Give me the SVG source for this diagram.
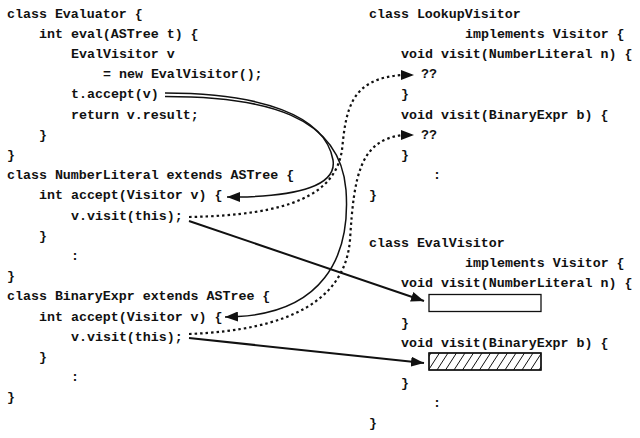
<svg xmlns="http://www.w3.org/2000/svg" width="640" height="438" viewBox="0 0 640 438">
<style>
text{font-family:"Liberation Mono","DejaVu Sans Mono",monospace;font-size:13.3px;font-weight:bold;fill:#111}
.ln{fill:none;stroke:#111;stroke-width:2}
.dbl{fill:none;stroke:#111;stroke-width:1.5}
.dot{fill:none;stroke:#111;stroke-width:2.2;stroke-dasharray:2.5 3}
.box{fill:#fff;stroke:#111;stroke-width:1.3}
.hatch{stroke:#111;stroke-width:1}
</style>
<defs>
<marker id="ah" markerUnits="userSpaceOnUse" markerWidth="14" markerHeight="10" refX="13" refY="5" orient="auto">
<path d="M0,0 L13,5 L0,10 z" fill="#111"/>
</marker>
<clipPath id="hc"><rect x="429" y="353" width="112" height="17"/></clipPath>
</defs>
<rect width="640" height="438" fill="#fff"/>

<g id="evaluator">
<text x="7" y="17.5">class Evaluator {</text>
<text x="39" y="37.7">int eval(ASTree t) {</text>
<text x="71" y="57.9">EvalVisitor v</text>
<text x="103" y="78.1">= new EvalVisitor();</text>
<text x="71" y="98.3">t.accept(v)</text>
<text x="71" y="118.5">return v.result;</text>
<text x="39" y="138.7">}</text>
<text x="7" y="158.9">}</text>
</g>

<g id="numberliteral">
<text x="7" y="179.1">class NumberLiteral extends ASTree {</text>
<text x="39" y="199.3">int accept(Visitor v) {</text>
<text x="71" y="219.5">v.visit(this);</text>
<text x="39" y="239.7">}</text>
<text x="71" y="259.9">:</text>
<text x="7" y="280.1">}</text>
</g>

<g id="binaryexpr">
<text x="7" y="300.3">class BinaryExpr extends ASTree {</text>
<text x="39" y="320.5">int accept(Visitor v) {</text>
<text x="71" y="340.7">v.visit(this);</text>
<text x="39" y="360.9">}</text>
<text x="71" y="381.1">:</text>
<text x="7" y="401.3">}</text>
</g>

<g id="lookupvisitor">
<text x="369" y="17.5">class LookupVisitor</text>
<text x="465" y="37.7">implements Visitor {</text>
<text x="401" y="57.9">void visit(NumberLiteral n) {</text>
<text x="421" y="78.1">??</text>
<text x="401" y="98.3">}</text>
<text x="401" y="118.5">void visit(BinaryExpr b) {</text>
<text x="421" y="138.7">??</text>
<text x="401" y="158.9">}</text>
<text x="433" y="179.1">:</text>
<text x="369" y="199.3">}</text>
</g>

<g id="evalvisitor">
<text x="369" y="246.5">class EvalVisitor</text>
<text x="465" y="266.6">implements Visitor {</text>
<text x="401" y="286.7">void visit(NumberLiteral n) {</text>
<rect class="box" x="429" y="294.5" width="112" height="17"/>
<text x="401" y="326.9">}</text>
<text x="401" y="347">void visit(BinaryExpr b) {</text>
<rect class="box" x="429" y="353" width="112" height="17"/>
<g clip-path="url(#hc)" class="hatch">
<line x1="420" y1="370" x2="431" y2="353"/>
<line x1="428.5" y1="370" x2="439.5" y2="353"/>
<line x1="437" y1="370" x2="448" y2="353"/>
<line x1="445.5" y1="370" x2="456.5" y2="353"/>
<line x1="454" y1="370" x2="465" y2="353"/>
<line x1="462.5" y1="370" x2="473.5" y2="353"/>
<line x1="471" y1="370" x2="482" y2="353"/>
<line x1="479.5" y1="370" x2="490.5" y2="353"/>
<line x1="488" y1="370" x2="499" y2="353"/>
<line x1="496.5" y1="370" x2="507.5" y2="353"/>
<line x1="505" y1="370" x2="516" y2="353"/>
<line x1="513.5" y1="370" x2="524.5" y2="353"/>
<line x1="522" y1="370" x2="533" y2="353"/>
<line x1="530.5" y1="370" x2="541.5" y2="353"/>
<line x1="539" y1="370" x2="550" y2="353"/>
</g>
<rect x="429" y="353" width="112" height="17" fill="none" stroke="#111" stroke-width="1.3"/>
<text x="401" y="387.2">}</text>
<text x="433" y="407.3">:</text>
<text x="369" y="427.4">}</text>
</g>

<g id="connectors">
<path class="dbl" d="M165,93 C260,93 325,115 333,160 C337,185 300,196 238,197 L227,197" marker-end="url(#ah)"/>
<path class="dbl" d="M165,96.5 C265,96.5 340,115 346,190 C351,260 320,312 238,316.5 L225,317" marker-end="url(#ah)"/>
<path class="dot" d="M189,217 C290,215 335,195 342,150 C346,110 350,78 403,75 L414,75" marker-end="url(#ah)"/>
<path class="dot" d="M189,334 C290,330 345,300 350,240 C354,175 360,140 403,135 L414,135" marker-end="url(#ah)"/>
<path class="ln" d="M189,221 L424,301" marker-end="url(#ah)"/>
<path class="ln" d="M189,338 L424,363" marker-end="url(#ah)"/>
</g>
</svg>
